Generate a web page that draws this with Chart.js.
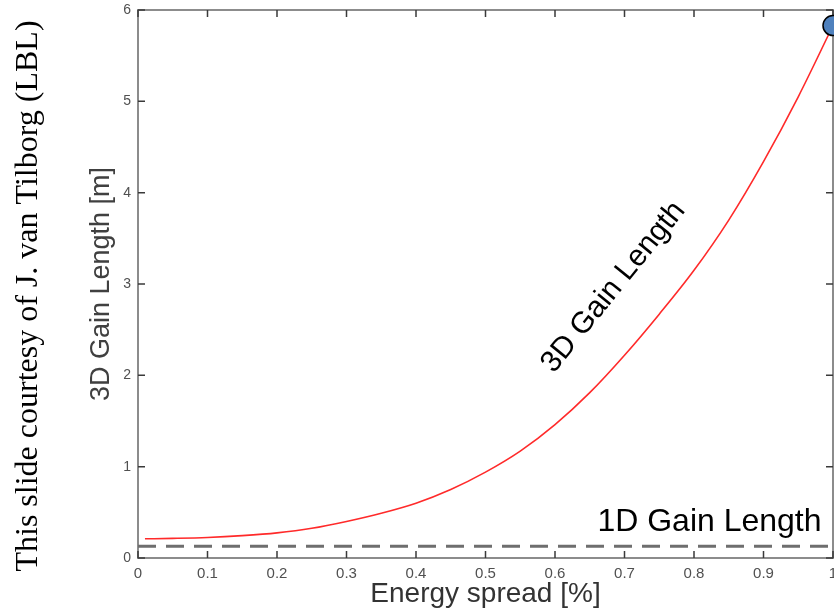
<!DOCTYPE html>
<html>
<head>
<meta charset="utf-8">
<script src="https://cdn.jsdelivr.net/npm/chart.js@4"></script>
<style>
  html, body { margin: 0; padding: 0; background: #fff; }
  #wrap { width: 834px; height: 612px; }
</style>
</head>
<body>
<div id="wrap"><canvas id="gainPlot" width="834" height="612"></canvas></div>
<script>
// energy spread [%] vs 3D gain length [m]
const energySpread = [0.01, 0.05, 0.1, 0.15, 0.2, 0.25, 0.3, 0.35, 0.4, 0.45, 0.5, 0.55, 0.6, 0.65, 0.7, 0.75, 0.8, 0.85, 0.9, 0.95, 1.0]
const gain3D = [0.21, 0.215, 0.225, 0.245, 0.275, 0.325, 0.40, 0.49, 0.60, 0.75, 0.94, 1.17, 1.46, 1.81, 2.22, 2.67, 3.15, 3.70, 4.34, 5.05, 5.83]

// flat 1D gain length (dashed)
const energy1D = [0, 1]
const gain1D = [0.13, 0.13]

// blue marker at the end of the curve
const markerX = [1.0]
const markerY = [5.83]

const xTicks = [0, 0.1, 0.2, 0.3, 0.4, 0.5, 0.6, 0.7, 0.8, 0.9, 1]
const xTickLabels = ['0', '0.1', '0.2', '0.3', '0.4', '0.5', '0.6', '0.7', '0.8', '0.9', '1']
const yTicks = [0, 1, 2, 3, 4, 5, 6]
const yTickLabels = ['0', '1', '2', '3', '4', '5', '6']

const courtesy = 'This slide courtesy of J. van Tilborg (LBL)'

const toPoints = (xs, ys) => xs.map((x, i) => ({x: x, y: ys[i]}))

// box round the plot with inward ticks on all four sides, like matlab
const boxPlugin = {
    id: 'boxPlugin',
    beforeDatasetsDraw(chart) {
        const {ctx, chartArea: a, scales: {x, y}} = chart
        ctx.save()
        ctx.strokeStyle = '#8c8c8c'
        ctx.lineWidth = 2
        ctx.strokeRect(a.left, a.top, a.right - a.left, a.bottom - a.top)
        ctx.strokeStyle = '#3a3a3a'
        ctx.lineWidth = 1.5
        const tl = 7
        ctx.beginPath()
        xTicks.forEach(v => {
            const px = x.getPixelForValue(v)
            ctx.moveTo(px, a.bottom); ctx.lineTo(px, a.bottom - tl)
            ctx.moveTo(px, a.top); ctx.lineTo(px, a.top + tl)
        })
        yTicks.forEach(v => {
            const py = y.getPixelForValue(v)
            ctx.moveTo(a.left, py); ctx.lineTo(a.left + tl, py)
            ctx.moveTo(a.right, py); ctx.lineTo(a.right - tl, py)
        })
        ctx.stroke()
        ctx.restore()
    },
    afterDatasetsDraw(chart) {
        const {ctx, scales: {x, y}} = chart
        ctx.save()
        ctx.fillStyle = '#000'
        ctx.font = '32px "Liberation Sans", Arial, sans-serif'
        ctx.textAlign = 'left'
        ctx.textBaseline = 'alphabetic'
        ctx.fillText('1D Gain Length', x.getPixelForValue(0.661), y.getPixelForValue(0.295))

        ctx.save()
        ctx.translate(x.getPixelForValue(0.684), y.getPixelForValue(2.965))
        ctx.rotate(-51 * Math.PI / 180)
        ctx.font = '30px "Liberation Sans", Arial, sans-serif'
        ctx.textAlign = 'center'
        ctx.textBaseline = 'middle'
        ctx.fillText('3D Gain Length', 0, 0)
        ctx.restore()

        // slide credit down the left edge
        ctx.translate(29, 296)
        ctx.rotate(-Math.PI / 2)
        ctx.font = '32px "Liberation Serif", "Times New Roman", serif'
        ctx.textAlign = 'center'
        ctx.textBaseline = 'middle'
        ctx.fillText(courtesy, 0, 0)
        ctx.restore()
    }
}

new Chart(document.getElementById('gainPlot'), {
    type: 'line',
    data: {
        datasets: [{
            label: '3D Gain Length',
            data: toPoints(energySpread, gain3D),
            borderColor: '#ff2a2a',
            borderWidth: 1.6,
            pointRadius: 0,
            fill: false,
            cubicInterpolationMode: 'monotone',
            order: 2
        },
        {
            label: '1D Gain Length',
            data: toPoints(energy1D, gain1D),
            borderColor: '#6e6e6e',
            borderWidth: 3,
            borderDash: [18, 10],
            pointRadius: 0,
            fill: false,
            order: 3
        },
        {
            label: 'end point',
            data: toPoints(markerX, markerY),
            showLine: false,
            pointRadius: 10,
            pointBackgroundColor: '#4f81bd',
            pointBorderColor: '#000',
            pointBorderWidth: 1.5,
            clip: false,
            order: 1
        }]
    },
    options: {
        responsive: false,
        animation: false,
        layout: { autoPadding: false, padding: { left: 85, top: 10, right: 1, bottom: 0 } },
        plugins: {
            legend: { display: false },
            tooltip: { enabled: false }
        },
        scales: {
            x: {
                type: 'linear',
                min: 0,
                max: 1,
                afterBuildTicks: s => { s.ticks = xTicks.map(v => ({value: v})) },
                afterFit: s => { s.height = 54; s.paddingLeft = 0; s.paddingRight = 0 },
                grid: { display: false, drawTicks: false },
                border: { display: false },
                ticks: {
                    padding: 7,
                    maxRotation: 0,
                    autoSkip: false,
                    color: '#505050',
                    font: { family: '"Liberation Sans", Arial', size: 15 },
                    callback: (v, i) => xTickLabels[i]
                },
                title: {
                    display: true,
                    text: 'Energy spread [%]',
                    color: '#333',
                    padding: { top: 0, bottom: 1 },
                    font: { family: '"Liberation Sans", Arial', size: 28 }
                }
            },
            y: {
                type: 'linear',
                min: 0,
                max: 6,
                afterBuildTicks: s => { s.ticks = yTicks.map(v => ({value: v})) },
                afterFit: s => { s.width = 53; s.paddingTop = 0; s.paddingBottom = 0 },
                grid: { display: false, drawTicks: false },
                border: { display: false },
                ticks: {
                    padding: 7,
                    autoSkip: false,
                    color: '#505050',
                    font: { family: '"Liberation Sans", Arial', size: 14 },
                    callback: (v, i) => yTickLabels[i]
                },
                title: {
                    display: true,
                    text: '3D Gain Length [m]',
                    color: '#404040',
                    padding: 0,
                    font: { family: '"Liberation Sans", Arial', size: 27 }
                }
            }
        }
    },
    plugins: [boxPlugin]
})
</script>
</body>
</html>
